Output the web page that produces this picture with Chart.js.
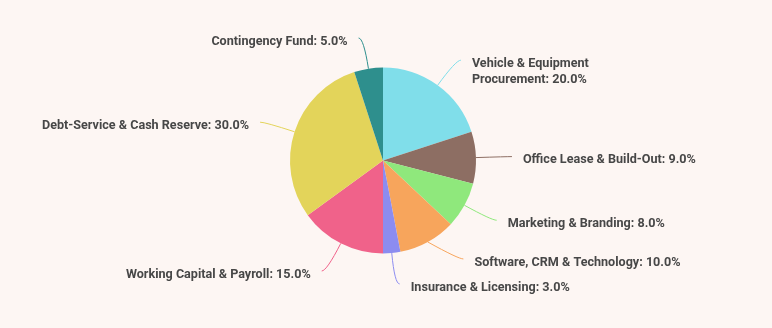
<!DOCTYPE html>
<html>
<head>
<meta charset="utf-8">
<script src="https://cdn.jsdelivr.net/npm/chart.js@4"></script>
<style>
  html, body { margin: 0; padding: 0; background: #fdf6f3; }
  #wrap { width: 772px; height: 328px; position: relative; }
</style>
</head>
<body>
<div id="wrap"><canvas id="c"></canvas></div>
<script>
const categories = [
  "Vehicle & Equipment\nProcurement",
  "Office Lease & Build-Out",
  "Marketing & Branding",
  "Software, CRM & Technology",
  "Insurance & Licensing",
  "Working Capital & Payroll",
  "Debt-Service & Cash Reserve",
  "Contingency Fund"
];
const shares = [20, 9, 8, 10, 3, 15, 30, 5];
const colors = ["#80deea", "#8d6e63", "#8fe87c", "#f7a55c", "#8c8cf0", "#f0628a", "#e3d45a", "#2e8f8d"];

const L1 = 31, L2 = 5, GAP = 11, LINE_H = 16;

const outsideLabels = {
  id: 'outsideLabels',
  afterDatasetsDraw(chart) {
    const ctx = chart.ctx;
    const meta = chart.getDatasetMeta(0);
    const items = meta.data.map((arc, i) => {
      const mid = (arc.startAngle + arc.endAngle) / 2;
      const dx = Math.cos(mid), dy = Math.sin(mid);
      const r = arc.outerRadius;
      const lines = (categories[i] + ': ' + shares[i].toFixed(1) + '%').split('\n');
      return {
        i, cx: arc.x, cy: arc.y, r,
        p0: [arc.x + r * dx, arc.y + r * dy],
        p1: [arc.x + (r + L1) * dx, arc.y + (r + L1) * dy],
        side: dx >= 0 ? 1 : -1,
        y: arc.y + (r + L1) * dy,
        lines,
        h: lines.length * LINE_H + 9,
        shifted: false
      };
    });
    // avoid overlaps per side: push labels upward from the bottom
    [1, -1].forEach(side => {
      const s = items.filter(it => it.side === side).sort((a, b) => a.y - b.y);
      for (let k = s.length - 2; k >= 0; k--) {
        const lim = s[k + 1].y - s[k].h;
        if (s[k].y > lim) { s[k].y = lim; s[k].shifted = true; }
      }
    });
    ctx.save();
    items.forEach(it => {
      if (it.shifted) {
        const rA = it.r + L1;
        const ddy = it.y - it.cy;
        const ddx = Math.sqrt(Math.max(0, rA * rA - ddy * ddy));
        it.p1 = [it.cx + it.side * ddx, it.y];
      }
      const p2 = [it.p1[0] + it.side * L2, it.y];
      ctx.beginPath();
      ctx.moveTo(it.p0[0], it.p0[1]);
      ctx.quadraticCurveTo(it.p1[0], it.p1[1], p2[0], p2[1]);
      ctx.strokeStyle = colors[it.i];
      ctx.lineWidth = 1;
      ctx.stroke();
      ctx.fillStyle = '#474747';
      ctx.font = 'bold 12.6px Roboto';
      ctx.textAlign = it.side > 0 ? 'left' : 'right';
      ctx.textBaseline = 'middle';
      const tx = p2[0] + it.side * GAP;
      it.lines.forEach((ln, j) => {
        ctx.fillText(ln, tx, it.y + 3.5 + j * LINE_H);
      });
    });
    ctx.restore();
  }
};

new Chart(document.getElementById('c'), {
  type: 'pie',
  data: {
    labels: categories,
    datasets: [{
      data: shares,
      backgroundColor: colors,
      borderWidth: 0,
      hoverOffset: 0
    }]
  },
  options: {
    responsive: true,
    maintainAspectRatio: false,
    animation: false,
    radius: 93,
    layout: { padding: { left: 290, right: 296, top: 67.5, bottom: 74.5 } },
    plugins: { legend: { display: false }, tooltip: { enabled: false } }
  },
  plugins: [outsideLabels]
});
</script>
</body>
</html>
